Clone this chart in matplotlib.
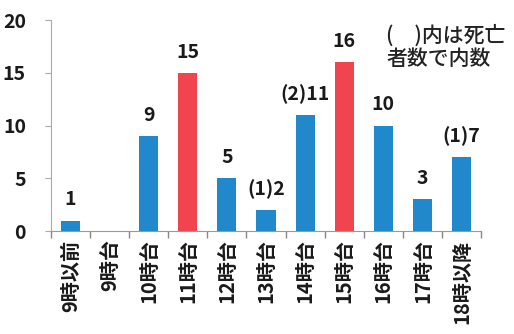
import matplotlib
matplotlib.use("Agg")
import matplotlib.pyplot as plt

plt.rcParams['font.family'] = ['Noto Sans CJK JP', 'DejaVu Sans']

categories = ["9時以前", "9時台", "10時台", "11時台", "12時台", "13時台",
              "14時台", "15時台", "16時台", "17時台", "18時以降"]
values = [1, 0, 9, 15, 5, 2, 11, 16, 10, 3, 7]
deaths = [0, 0, 0, 0, 0, 1, 2, 0, 0, 0, 1]
highlight = [False, False, False, True, False, False, False, True, False, False, False]
yticks = [0, 5, 10, 15, 20]

blue = "#2188cc"
red = "#f0454f"

fig = plt.figure(figsize=(5.14, 3.34), dpi=100)
ax = fig.add_axes([0.099, 0.308, 0.837, 0.632])

x = list(range(len(categories)))
colors = [red if h else blue for h in highlight]
ax.bar(x, values, width=0.49, color=colors, zorder=2)

for xi, v, d in zip(x, values, deaths):
    if v == 0:
        continue
    label = f"({d}){v}" if d > 0 else f"{v}"
    ax.annotate(label, (xi, v), xytext=(0, 8), textcoords="offset points",
                ha="center", va="bottom", fontsize=14, fontweight="bold",
                color="#1a1a1a")

ax.set_xlim(-0.5, len(categories) - 0.5)
ax.set_ylim(0, 20)
ax.set_yticks(yticks)
ax.set_yticklabels([str(t) for t in yticks], fontsize=14, fontweight="bold",
                   color="#1a1a1a")
ax.set_xticks(x)
ax.set_xticklabels(categories, rotation=90, fontsize=14.5, fontweight="bold",
                   color="#1a1a1a")
ax.set_xticks([i + 0.5 for i in range(-1, len(categories))], minor=True)
ax.tick_params(axis="x", which="major", length=0, pad=6)
ax.tick_params(axis="x", which="minor", length=5, color="#888888", width=1)
ax.tick_params(axis="y", length=4, color="#aaaaaa", pad=14)

for s in ["top", "right"]:
    ax.spines[s].set_visible(False)
ax.spines["left"].set_color("#aaaaaa")
ax.spines["bottom"].set_color("#999999")

fig.text(386 / 514, 1 - 47 / 334, "(\u3000)内は死亡\n者数で内数", fontsize=15,
         ha="left", va="center", color="#222222", linespacing=1.05,
         fontweight="medium")

fig.savefig("out.png", dpi=100)
